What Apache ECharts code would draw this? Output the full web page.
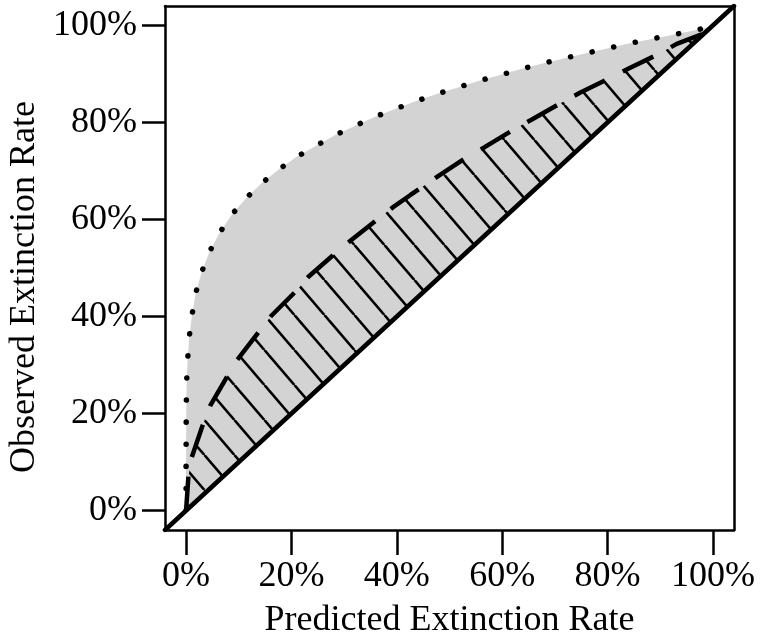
<!DOCTYPE html>
<html>
<head>
<meta charset="utf-8">
<script src="https://cdn.jsdelivr.net/npm/echarts@6/dist/echarts.min.js"></script>
<style>
  html, body { margin: 0; padding: 0; background: #fff; }
  #chart { width: 760px; height: 639px; }
</style>
</head>
<body>
<div id="chart"></div>
<script>
// ---- data ----
const tickValues = [0, 20, 40, 60, 80, 100];
const axisMin = -4;
const axisMax = 104;

// dotted upper curve
const dottedX = [0, 0, 0, 0.01, 0.02, 0.05, 0.12, 0.31, 0.63, 1.14, 1.83, 2.97, 4.43, 6.33, 8.67, 11.39, 14.37,
  17.66, 20.94, 24.59, 28.23, 32.03, 35.75, 39.68, 43.55, 47.41, 51.43, 55.44, 59.45, 63.38, 67.46,
  71.48, 75.49, 79.49, 83.5, 87.66, 91.74, 95.9, 99.83, 100];
const dottedY = [0, 4.6, 8.9, 13.7, 18.0, 22.5, 26.9, 31.4, 36.0, 40.4, 44.8, 49.2, 53.3, 57.2, 61.0, 64.4, 67.5,
  70.35, 72.88, 75.15, 77.35, 79.27, 81.12, 82.77, 84.35, 85.79, 87.17, 88.53, 89.71, 90.94, 92.11,
  93.14, 94.17, 95.12, 96.15, 97.05, 97.94, 98.83, 99.79, 100];

// dashed middle curve
const dashedX = [0, 0.44, 1.08, 3.28, 4.56, 7.40, 9.74, 13.86, 16.14, 21.02, 23.22, 28.29, 30.95, 36.32, 39.36,
  42.53, 47.92, 53.39, 56.67, 62.27, 65.64, 71.48, 74.75, 80.37, 84.01, 90.07, 93.13, 98.96, 100];
const dashedY = [0, 7.0, 11.0, 18.0, 21.6, 26.9, 31.1, 36.9, 40.1, 45.4, 48.2, 53.0, 55.4, 60.0, 62.6,
  65.0, 69.0, 72.9, 74.9, 78.6, 80.6, 84.2, 86.1, 89.1, 91.1, 94.3, 96.2, 98.6, 100];

// solid 1:1 line across the full plot range
const diagX = [-4, 104];
const diagY = [-4, 104];

// ---- build ----
function pairs(xs, ys) { return xs.map((x, i) => [x, ys[i]]); }

function hatchPattern() {
  const w = 30, h = 35, o = 24.4;
  const c = document.createElement('canvas');
  c.width = w; c.height = h;
  const ctx = c.getContext('2d');
  ctx.strokeStyle = '#000';
  ctx.lineWidth = 2.6;
  for (let k = -2; k <= 1; k++) {
    ctx.beginPath();
    ctx.moveTo(o + k * w, 0);
    ctx.lineTo(o + k * w + w, h);
    ctx.stroke();
  }
  return { image: c, repeat: 'repeat' };
}

const font = 'Liberation Serif';
const axisLineStyle = { color: '#000', width: 2.5 };

function mainAxis(pos, name, gap, tickLen, margin, namePad) {
  return {
    type: 'value', position: pos, min: axisMin, max: axisMax, z: 10,
    name: name, nameLocation: 'middle', nameGap: gap,
    nameTextStyle: { fontFamily: font, fontSize: 36, color: '#000', padding: namePad },
    axisLine: { show: true, onZero: false, lineStyle: axisLineStyle },
    axisTick: { show: true, customValues: tickValues, length: tickLen, lineStyle: axisLineStyle },
    axisLabel: { show: true, customValues: tickValues, formatter: v => v + '%', margin: margin,
      fontFamily: font, fontSize: 36, color: '#000' },
    splitLine: { show: false }
  };
}
function frameAxis(pos) {
  return {
    type: 'value', position: pos, min: axisMin, max: axisMax, z: 10,
    axisLine: { show: true, onZero: false, lineStyle: axisLineStyle },
    axisTick: { show: false }, axisLabel: { show: false }, splitLine: { show: false }
  };
}

const chart = echarts.init(document.getElementById('chart'), null, { renderer: 'canvas' });
chart.setOption({
  animation: false,
  backgroundColor: '#fff',
  grid: { left: 165, right: 26, top: 6, bottom: 109, containLabel: false, outerBoundsMode: 'none' },
  xAxis: [mainAxis('bottom', 'Predicted Extinction Rate', 73, 25, 29, 0), frameAxis('top')],
  yAxis: [mainAxis('left', 'Observed Extinction Rate', 117, 23, 28, [0, 38, 0, 0]), frameAxis('right')],
  series: [
    {
      type: 'line', data: pairs(dottedX, dottedY), showSymbol: false, z: 2,
      lineStyle: { color: '#000', width: 5.5, type: [0.1, 22], cap: 'round' },
      areaStyle: { color: '#d3d3d3', opacity: 1, origin: 'start' }
    },
    {
      type: 'line', data: pairs(dashedX, dashedY), showSymbol: false, z: 3,
      lineStyle: { color: '#000', width: 4.5, type: [34, 20], cap: 'butt' },
      areaStyle: { color: hatchPattern(), opacity: 1, origin: 'start' }
    },
    {
      type: 'line', data: pairs(diagX, diagY), showSymbol: false, z: 4,
      lineStyle: { color: '#000', width: 4.5, cap: 'round' },
      areaStyle: { color: '#fff', opacity: 1, origin: 'start' }
    }
  ]
});
</script>
</body>
</html>
